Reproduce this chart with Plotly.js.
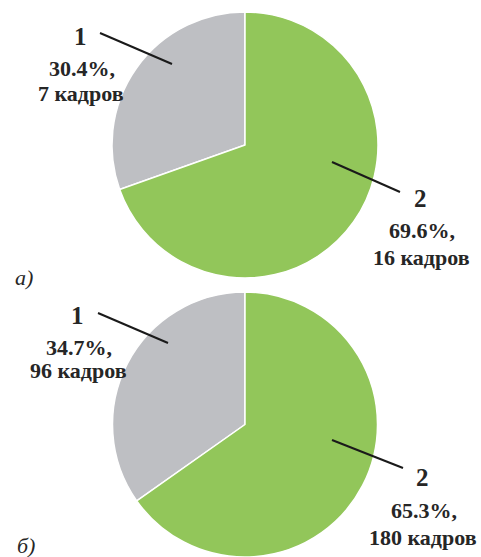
<!DOCTYPE html>
<html>
<head>
<meta charset="utf-8">
<script src="https://cdn.plot.ly/plotly-3.0.1.min.js"></script>
<style>html,body{margin:0;padding:0;background:#fff}#chart{width:481px;height:557px}</style>
</head>
<body>
<div id="chart"></div>
<script>
const groups = ['1', '2'];
const countsA = [7, 16];
const countsB = [96, 180];
const percentA = ['30.4', '69.6'];
const percentB = ['34.7', '65.3'];
const panelLabels = ['а)', 'б)'];
const unit = 'кадров';
const sliceColors = ['#BEBFC3', '#92C65A'];

const W = 481, H = 557;
const px = x => x / W;
const py = y => 1 - y / H;
const R = 133;

function pieDomain(cx, cy) {
  return {x: [px(cx - R), px(cx + R)], y: [Math.max(0, py(cy + R)), Math.min(1, py(cy - R))]};
}

function pieTrace(vals, dom) {
  const tot = vals.reduce((a, c) => a + c, 0);
  return {
    type: 'pie', labels: groups, values: vals, sort: false,
    direction: 'clockwise', rotation: -360 * vals[0] / tot,
    textinfo: 'none', hoverinfo: 'label+value+percent',
    marker: {colors: sliceColors, line: {color: '#ffffff', width: 1.5}},
    domain: dom, showlegend: false
  };
}

const data = [pieTrace(countsA, pieDomain(245, 145)), pieTrace(countsB, pieDomain(245, 425))];

const fnt = {family: "'Liberation Serif', 'Times New Roman', serif", color: '#262626'};
function ann(text, x, y, size, extra) {
  return Object.assign({text: text, x: px(x), y: py(y), xref: 'paper', yref: 'paper',
    xanchor: 'center', yanchor: 'middle', showarrow: false,
    font: Object.assign({}, fnt, {size: size})}, extra || {});
}
function b(s) { return '<b>' + s + '</b>'; }

const labelPos = [
  [countsA, percentA, 0, 80, 37, 68, 93],
  [countsA, percentA, 1, 420, 198, 230, 257],
  [countsB, percentB, 0, 77, 315, 347, 370],
  [countsB, percentB, 1, 422, 477, 510, 537]
];
const annotations = [];
labelPos.forEach(p => {
  const [vals, pcts, i, x, y1, y2, y3] = p;
  annotations.push(ann(b(groups[i]), x, y1, 25));
  annotations.push(ann(b(pcts[i] + '%,'), x + 2, y2, 22));
  annotations.push(ann(b(vals[i] + ' ' + unit), x + 1, y3, 22));
});
annotations.push(ann('<i>' + panelLabels[0] + '</i>', 24, 277, 22));
annotations.push(ann('<i>' + panelLabels[1] + '</i>', 26, 545, 22));

const lines = [[100, 33, 172, 64], [332, 162, 400, 192], [98, 313, 168, 343], [332, 440, 403, 468]];
const shapes = lines.map(l => ({type: 'line', xref: 'paper', yref: 'paper',
  x0: px(l[0]), y0: py(l[1]), x1: px(l[2]), y1: py(l[3]), line: {color: '#1a1a1a', width: 2}}));

const layout = {
  width: W, height: H, margin: {l: 0, r: 0, t: 0, b: 0},
  paper_bgcolor: '#ffffff', plot_bgcolor: '#ffffff',
  annotations: annotations, shapes: shapes, showlegend: false
};
Plotly.newPlot('chart', data, layout, {displayModeBar: false, staticPlot: true});
</script>
</body>
</html>
